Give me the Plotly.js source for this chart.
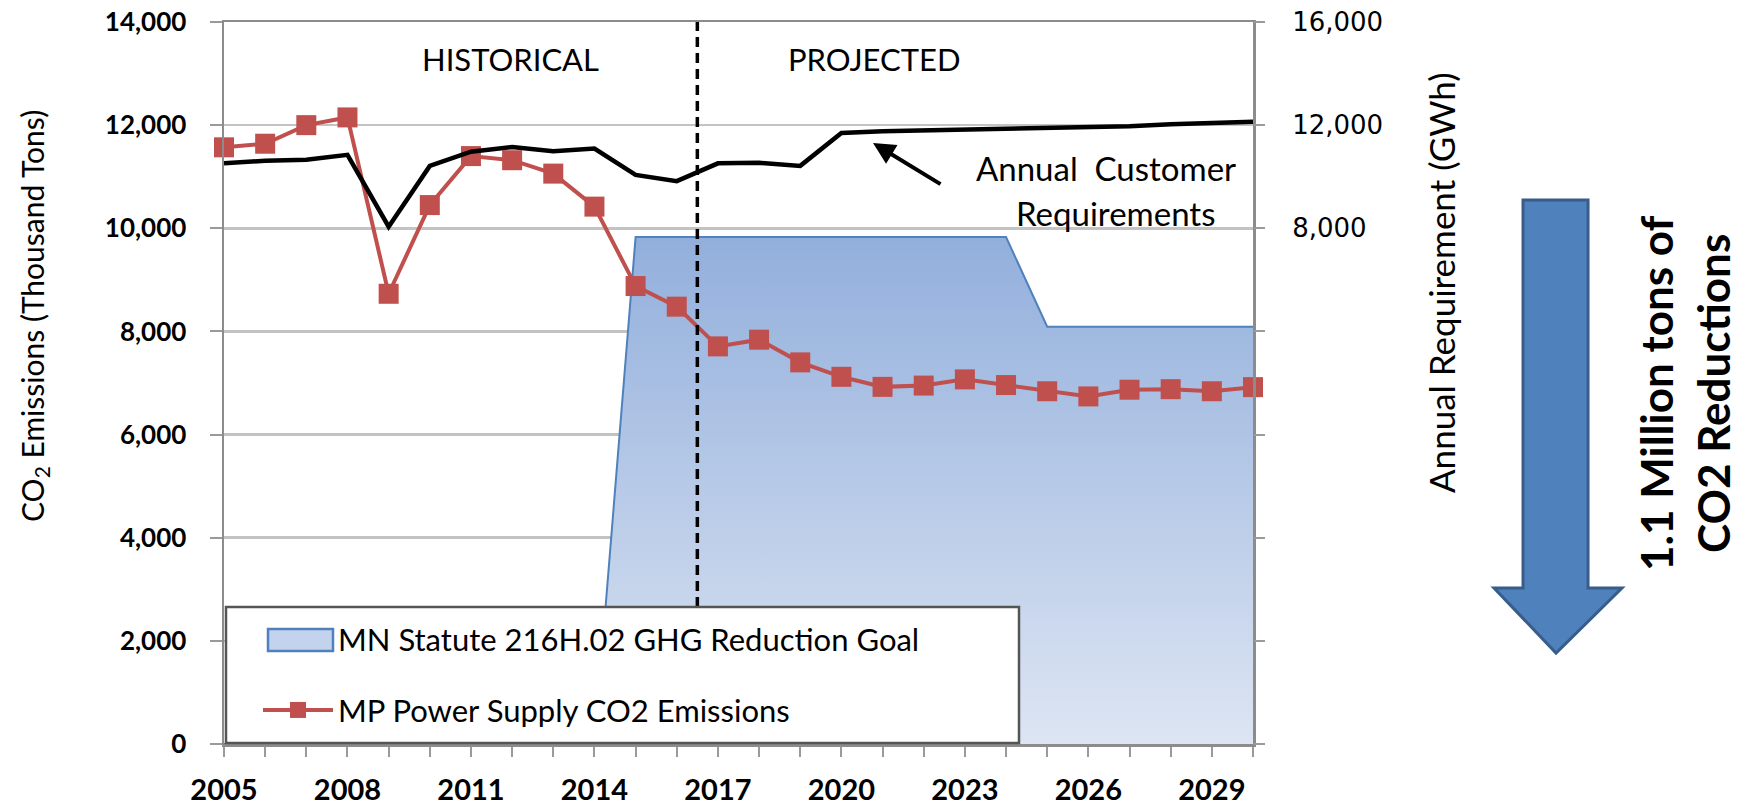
<!DOCTYPE html>
<html><head><meta charset="utf-8">
<script src="https://cdn.plot.ly/plotly-3.0.1.min.js"></script>
<style>html,body{margin:0;padding:0;background:#fff;} #chart{width:1744px;height:809px;}</style>
</head><body><div id="chart"></div>
<script>
// ---- data ----
const years = [2005,2006,2007,2008,2009,2010,2011,2012,2013,2014,2015,2016,2017,2018,2019,2020,2021,2022,2023,2024,2025,2026,2027,2028,2029,2030];
const goalEmissions = [0,0,0,0,0,0,0,0,0,0,9830,9830,9830,9830,9830,9830,9830,9830,9830,9830,8090,8090,8090,8090,8090,8090];
const mpEmissions = [11570,11640,12000,12150,8730,10450,11400,11320,11060,10420,8880,8480,7710,7840,7400,7120,6925,6950,7070,6960,6840,6740,6870,6880,6840,6920];
const customerRequirements = [10520,10620,10660,10850,8060,10420,10970,11150,10990,11090,10070,9830,10520,10540,10420,11700,11760,11790,11830,11860,11890,11920,11960,12030,12080,12130];
const xTickVals = [2005,2008,2011,2014,2017,2020,2023,2026,2029];
const leftTickVals = [0,2000,4000,6000,8000,10000,12000,14000];
const rightTickVals = [-12000,-8000,-4000,0,4000,8000,12000,16000];
const rightTickText = ['','','','','','8,000','12,000','16,000'];
const goalName = 'MN Statute 216H.02 GHG Reduction Goal';
const mpName = 'MP Power Supply CO2 Emissions';
const splitYear = 2016.5;

// ---- geometry helpers (pixel -> paper) ----
const L = 224, R = 1253, T = 22, B = 744;
const px = v => (v - L) / (R - L);
const py = v => (B - v) / (B - T);

const traces = [
  {x: years, y: goalEmissions, name: goalName, type: 'scatter', mode: 'lines',
   line: {color: '#4F81BD', width: 2}, fill: 'tozeroy',
   fillgradient: {type: 'vertical', colorscale: [[0, '#DDE5F3'], [1, '#92AFDC']]},
   showlegend: false, hoverinfo: 'skip'},
  // legend entry for the goal area (symbol box drawn as a shape underneath)
  {x: [null], y: [null], name: goalName, type: 'scatter', mode: 'lines',
   line: {color: 'rgba(0,0,0,0)', width: 0}, legendgroup: 'g1'},
  {x: years, y: mpEmissions, name: mpName, type: 'scatter', mode: 'lines+markers',
   line: {color: '#C0504D', width: 4}, marker: {symbol: 'square', size: 20, color: '#C0504D'},
   cliponaxis: false, legendgroup: 'g2'},
  {x: years, y: customerRequirements, name: 'Annual Customer Requirements', yaxis: 'y2',
   type: 'scatter', mode: 'lines', line: {color: '#000000', width: 4.5}, showlegend: false}
];

const arrowPts = [[1523,200],[1588,200],[1588,588],[1622,588],[1556,653],[1494,588],[1523,588]];
const arrowPath = 'M' + arrowPts.map(p => px(p[0]).toFixed(4) + ',' + py(p[1]).toFixed(4)).join(' L') + ' Z';

const layout = {
  width: 1744, height: 809,
  margin: {l: L, r: 1744 - R, t: T, b: 809 - B, pad: 0},
  paper_bgcolor: '#ffffff', plot_bgcolor: '#ffffff',
  showlegend: true,
  xaxis: {range: [2005, 2030], tickmode: 'array', tickvals: xTickVals,
    ticks: 'outside', ticklen: 10, tickwidth: 2, tickcolor: '#9a9a9a',
    minor: {tickmode: 'linear', tick0: 2005, dtick: 1, ticks: 'outside', ticklen: 10, tickwidth: 2, tickcolor: '#9a9a9a'},
    showline: true, linecolor: '#8c8c8c', linewidth: 2.5, mirror: true,
    showgrid: false, zeroline: false, ticklabelstandoff: 9,
    tickfont: {family: 'Lato', size: 29, weight: 'bold', color: '#000'}},
  yaxis: {range: [0, 14000], tickmode: 'array', tickvals: leftTickVals, tickformat: ',',
    ticks: 'outside', ticklen: 12, tickwidth: 2, tickcolor: '#9a9a9a',
    showgrid: true, gridcolor: '#c3c3c3', gridwidth: 2.5,
    showline: true, linecolor: '#8c8c8c', linewidth: 2.5, mirror: true,
    zeroline: false, ticklabelstandoff: 18,
    tickfont: {family: 'Lato', size: 26, weight: 'bold', color: '#000'}},
  yaxis2: {overlaying: 'y', side: 'right', range: [-12000, 16000], tickmode: 'array',
    tickvals: rightTickVals, ticktext: rightTickText,
    ticks: 'outside', ticklen: 11, tickwidth: 2, tickcolor: '#9a9a9a',
    showgrid: false, zeroline: false, showline: false, ticklabelstandoff: 22,
    tickfont: {family: 'DejaVu Sans', size: 26, color: '#000'}},
  legend: {x: px(258), y: py(612), xanchor: 'left', yanchor: 'top',
    bgcolor: 'rgba(0,0,0,0)', borderwidth: 0, itemwidth: 70,
    traceorder: 'grouped', tracegroupgap: 28,
    font: {family: 'Lato', size: 31, color: '#000'}},
  shapes: [
    {type: 'line', xref: 'x', yref: 'paper', x0: splitYear, x1: splitYear, y0: py(607), y1: 1,
     line: {color: '#000', width: 3.5, dash: '10px,6px'}, layer: 'above'},
    {type: 'rect', xref: 'paper', yref: 'paper', x0: px(226), x1: px(1019), y0: py(743), y1: py(607),
     fillcolor: '#ffffff', line: {color: '#555555', width: 2.5}, layer: 'above'},
    {type: 'rect', xref: 'paper', yref: 'paper', x0: px(268), x1: px(333), y0: py(651), y1: py(629),
     fillcolor: '#C3D3EE', line: {color: '#4F81BD', width: 2.5}, layer: 'above'},
    {type: 'path', xref: 'paper', yref: 'paper', path: arrowPath,
     fillcolor: '#4F81BD', line: {color: '#385D8A', width: 3}, layer: 'above'}
  ],
  annotations: [
    {xref: 'paper', yref: 'paper', x: px(34), y: py(316), text: 'CO<sub>2</sub> Emissions (Thousand Tons)',
     textangle: -90, showarrow: false, xanchor: 'center', yanchor: 'middle',
     font: {family: 'Lato', size: 30, color: '#000'}},
    {xref: 'paper', yref: 'paper', x: px(1441), y: py(283), text: 'Annual Requirement (GWh)',
     textangle: -90, showarrow: false, xanchor: 'center', yanchor: 'middle',
     font: {family: 'Lato', size: 35, color: '#000'}},
    {xref: 'paper', yref: 'paper', x: px(1684), y: py(393), text: '1.1 Million tons of<br>CO2 Reductions',
     textangle: -90, showarrow: false, xanchor: 'center', yanchor: 'middle', align: 'center',
     font: {family: 'Lato', size: 44, weight: 'bold', color: '#000'}},
    {xref: 'paper', yref: 'paper', x: px(510), y: py(59), text: 'HISTORICAL', showarrow: false,
     xanchor: 'center', yanchor: 'middle', font: {family: 'Lato', size: 31, color: '#000'}},
    {xref: 'paper', yref: 'paper', x: px(874), y: py(59), text: 'PROJECTED', showarrow: false,
     xanchor: 'center', yanchor: 'middle', font: {family: 'Lato', size: 31, color: '#000'}},
    {xref: 'paper', yref: 'paper', x: px(1106), y: py(168), text: 'Annual&nbsp;&nbsp;Customer', showarrow: false,
     xanchor: 'center', yanchor: 'middle', font: {family: 'Lato', size: 33, color: '#000'}},
    {xref: 'paper', yref: 'paper', x: px(1115), y: py(213), text: 'Requirements', showarrow: false,
     xanchor: 'center', yanchor: 'middle', font: {family: 'Lato', size: 33, color: '#000'}},
    {xref: 'paper', yref: 'paper', x: px(873), y: py(143), ax: 69, ay: 42, text: '',
     showarrow: true, arrowhead: 2, arrowsize: 1.1, arrowwidth: 4, arrowcolor: '#000'}
  ]
};

Plotly.newPlot('chart', traces, layout, {displayModeBar: false, staticPlot: true});
</script></body></html>
